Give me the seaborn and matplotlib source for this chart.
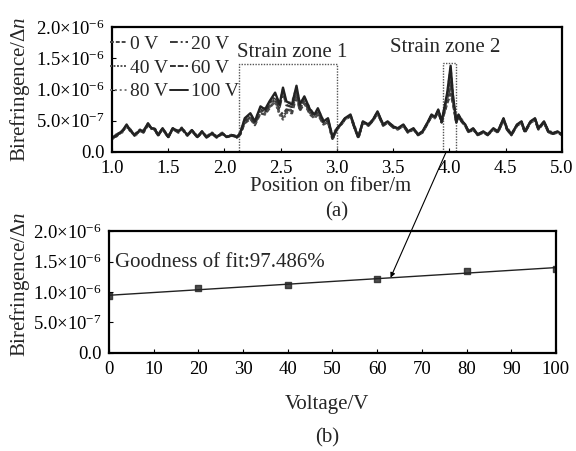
import numpy as np
import pandas as pd
import seaborn as sns
import matplotlib
matplotlib.use("Agg")
import matplotlib.pyplot as plt
from matplotlib.patches import Rectangle, ConnectionPatch
from matplotlib.lines import Line2D

# position along the fiber (m)
position = [1.00, 1.04, 1.09, 1.13, 1.16, 1.20, 1.25, 1.28, 1.32, 1.35, 1.38,
            1.41, 1.45, 1.50, 1.54, 1.59, 1.62, 1.67, 1.71, 1.76, 1.80, 1.84,
            1.89, 1.93, 1.98, 2.02, 2.07, 2.11, 2.14, 2.18, 2.23, 2.27, 2.32,
            2.36, 2.40, 2.45, 2.49, 2.52, 2.55, 2.60, 2.64, 2.67, 2.71, 2.76,
            2.80, 2.83, 2.88, 2.92, 2.96, 3.00, 3.03, 3.07, 3.12, 3.16, 3.19,
            3.23, 3.28, 3.32, 3.36, 3.41, 3.45, 3.50, 3.54, 3.59, 3.63, 3.68,
            3.72, 3.76, 3.81, 3.84, 3.87, 3.90, 3.93, 3.96, 3.98, 4.01, 4.03,
            4.06, 4.08, 4.11, 4.14, 4.17, 4.21, 4.25, 4.30, 4.34, 4.39, 4.43,
            4.48, 4.51, 4.55, 4.60, 4.64, 4.67, 4.72, 4.76, 4.79, 4.84, 4.88,
            4.92, 4.96, 5.00]

# birefringence in units of 1e-6, one list per applied voltage
bi_0v = [0.21, 0.27, 0.32, 0.42, 0.35, 0.27, 0.34, 0.33, 0.45, 0.38, 0.37,
         0.27, 0.38, 0.24, 0.38, 0.33, 0.38, 0.27, 0.35, 0.24, 0.33, 0.24,
         0.30, 0.24, 0.30, 0.24, 0.27, 0.24, 0.29, 0.46, 0.53, 0.43, 0.62,
         0.60, 0.70, 0.82, 0.62, 0.56, 0.64, 0.62, 0.90, 0.66, 0.78, 0.60,
         0.54, 0.60, 0.44, 0.48, 0.22, 0.37, 0.43, 0.53, 0.58, 0.37, 0.24,
         0.48, 0.43, 0.51, 0.64, 0.43, 0.48, 0.40, 0.37, 0.43, 0.32, 0.37,
         0.28, 0.32, 0.48, 0.58, 0.55, 0.66, 0.48, 0.66, 0.78, 0.93, 0.78,
         0.48, 0.58, 0.49, 0.43, 0.32, 0.37, 0.28, 0.32, 0.28, 0.37, 0.32,
         0.53, 0.37, 0.28, 0.43, 0.48, 0.32, 0.48, 0.53, 0.37, 0.48, 0.32,
         0.30, 0.32, 0.28]
bi_20v = [0.22, 0.28, 0.33, 0.41, 0.36, 0.27, 0.34, 0.34, 0.44, 0.38, 0.36,
          0.27, 0.37, 0.24, 0.37, 0.33, 0.37, 0.27, 0.34, 0.24, 0.32, 0.24,
          0.30, 0.24, 0.30, 0.24, 0.27, 0.24, 0.28, 0.48, 0.56, 0.45, 0.66,
          0.63, 0.74, 0.85, 0.66, 0.60, 0.68, 0.66, 0.95, 0.68, 0.82, 0.62,
          0.56, 0.63, 0.46, 0.50, 0.21, 0.37, 0.43, 0.53, 0.58, 0.37, 0.23,
          0.48, 0.43, 0.51, 0.63, 0.43, 0.48, 0.40, 0.37, 0.43, 0.32, 0.37,
          0.28, 0.32, 0.48, 0.58, 0.55, 0.66, 0.48, 0.68, 0.82, 1.06, 0.82,
          0.48, 0.58, 0.49, 0.43, 0.32, 0.37, 0.28, 0.32, 0.28, 0.37, 0.32,
          0.52, 0.37, 0.28, 0.43, 0.48, 0.32, 0.48, 0.52, 0.37, 0.48, 0.32,
          0.30, 0.32, 0.28]
bi_40v = [0.21, 0.26, 0.32, 0.43, 0.34, 0.28, 0.36, 0.32, 0.45, 0.37, 0.38,
          0.28, 0.37, 0.25, 0.37, 0.32, 0.39, 0.28, 0.34, 0.25, 0.32, 0.25,
          0.31, 0.25, 0.29, 0.25, 0.28, 0.23, 0.31, 0.50, 0.55, 0.44, 0.65,
          0.62, 0.72, 0.80, 0.60, 0.52, 0.62, 0.70, 0.92, 0.70, 0.80, 0.62,
          0.55, 0.62, 0.45, 0.50, 0.20, 0.37, 0.43, 0.53, 0.58, 0.37, 0.22,
          0.48, 0.43, 0.51, 0.63, 0.43, 0.48, 0.40, 0.37, 0.43, 0.32, 0.37,
          0.27, 0.32, 0.48, 0.59, 0.55, 0.66, 0.48, 0.70, 0.85, 1.12, 0.84,
          0.48, 0.58, 0.49, 0.43, 0.32, 0.37, 0.27, 0.32, 0.27, 0.37, 0.32,
          0.53, 0.37, 0.27, 0.43, 0.48, 0.32, 0.48, 0.53, 0.37, 0.48, 0.32,
          0.29, 0.32, 0.27]
bi_60v = [0.23, 0.25, 0.34, 0.40, 0.37, 0.26, 0.34, 0.31, 0.43, 0.39, 0.36,
          0.26, 0.37, 0.23, 0.37, 0.31, 0.37, 0.26, 0.34, 0.23, 0.32, 0.23,
          0.29, 0.23, 0.29, 0.25, 0.26, 0.23, 0.29, 0.50, 0.58, 0.46, 0.68,
          0.64, 0.78, 0.88, 0.72, 0.96, 0.75, 0.72, 1.00, 0.72, 0.85, 0.65,
          0.57, 0.66, 0.47, 0.52, 0.22, 0.36, 0.42, 0.52, 0.57, 0.36, 0.23,
          0.47, 0.42, 0.50, 0.62, 0.42, 0.47, 0.39, 0.36, 0.42, 0.31, 0.36,
          0.27, 0.31, 0.47, 0.57, 0.54, 0.65, 0.47, 0.72, 0.88, 1.21, 0.86,
          0.47, 0.57, 0.48, 0.42, 0.31, 0.36, 0.27, 0.31, 0.27, 0.36, 0.31,
          0.51, 0.36, 0.27, 0.42, 0.47, 0.31, 0.47, 0.51, 0.36, 0.47, 0.31,
          0.29, 0.31, 0.27]
bi_80v = [0.20, 0.28, 0.31, 0.42, 0.36, 0.25, 0.33, 0.35, 0.44, 0.40, 0.35,
          0.28, 0.36, 0.25, 0.36, 0.34, 0.36, 0.28, 0.33, 0.25, 0.31, 0.25,
          0.28, 0.25, 0.31, 0.23, 0.28, 0.25, 0.32, 0.52, 0.60, 0.50, 0.70,
          0.70, 0.78, 0.92, 0.78, 1.00, 0.78, 0.80, 1.02, 0.78, 0.86, 0.70,
          0.58, 0.68, 0.50, 0.52, 0.26, 0.40, 0.42, 0.52, 0.58, 0.40, 0.25,
          0.47, 0.45, 0.50, 0.62, 0.45, 0.47, 0.42, 0.37, 0.42, 0.34, 0.36,
          0.29, 0.32, 0.47, 0.58, 0.55, 0.66, 0.50, 0.72, 0.92, 1.34, 0.90,
          0.50, 0.58, 0.52, 0.42, 0.34, 0.36, 0.29, 0.32, 0.29, 0.36, 0.34,
          0.52, 0.40, 0.29, 0.42, 0.47, 0.34, 0.47, 0.52, 0.40, 0.47, 0.34,
          0.31, 0.32, 0.29]
bi_100v = [0.22, 0.27, 0.33, 0.44, 0.35, 0.27, 0.35, 0.33, 0.46, 0.38, 0.37,
           0.27, 0.38, 0.24, 0.38, 0.33, 0.38, 0.27, 0.35, 0.24, 0.33, 0.24,
           0.30, 0.24, 0.30, 0.24, 0.27, 0.24, 0.30, 0.54, 0.62, 0.49, 0.73,
           0.68, 0.81, 0.95, 0.76, 1.03, 0.81, 0.76, 1.06, 0.76, 0.89, 0.68,
           0.60, 0.70, 0.49, 0.54, 0.24, 0.38, 0.44, 0.54, 0.60, 0.38, 0.24,
           0.49, 0.44, 0.52, 0.65, 0.44, 0.49, 0.41, 0.38, 0.44, 0.33, 0.38,
           0.28, 0.33, 0.49, 0.60, 0.56, 0.68, 0.49, 0.76, 0.95, 1.38, 0.92,
           0.49, 0.60, 0.50, 0.44, 0.33, 0.38, 0.28, 0.33, 0.28, 0.38, 0.33,
           0.54, 0.38, 0.28, 0.44, 0.49, 0.33, 0.49, 0.54, 0.38, 0.49, 0.33,
           0.30, 0.33, 0.28]

voltage_names = ["0 V", "20 V", "40 V", "60 V", "80 V", "100 V"]

# panel (b): peak birefringence at strain zone 2
voltage = [0, 20, 40, 60, 80, 100]
peak_bi = [0.93, 1.06, 1.12, 1.21, 1.34, 1.38]

ytick_vals = [0.0, 0.5, 1.0, 1.5, 2.0]
ytick_text = ["0.0", "5.0×10$^{-7}$", "1.0×10$^{-6}$", "1.5×10$^{-6}$", "2.0×10$^{-6}$"]

# ---------------------------------------------------------------
sns.set_style("ticks")
plt.rcParams["font.family"] = ["Liberation Serif", "DejaVu Serif"]
plt.rcParams["mathtext.fontset"] = "custom"
plt.rcParams["mathtext.rm"] = "Liberation Serif"
plt.rcParams["mathtext.it"] = "Liberation Serif:italic"
plt.rcParams["xtick.direction"] = "in"
plt.rcParams["ytick.direction"] = "in"

fs = 15      # labels and annotations
tfs = 13.5   # tick labels

frames = []
for name, vals in zip(voltage_names, [bi_0v, bi_20v, bi_40v, bi_60v, bi_80v, bi_100v]):
    frames.append(pd.DataFrame({"pos": position, "bi": np.array(vals) * 1e-6, "V": name}))
df = pd.concat(frames, ignore_index=True)

dashes = {"0 V": (2, 1), "20 V": (4, 1.5, 1, 1.5), "40 V": (1, 0.8),
          "60 V": (3, 1), "80 V": (1, 1.5), "100 V": ""}
palette = {"0 V": "#444444", "20 V": "#3a3a3a", "40 V": "#555555",
           "60 V": "#333333", "80 V": "#777777", "100 V": "#222222"}

fig = plt.figure(figsize=(5.76, 4.51), dpi=100)
ax1 = fig.add_axes([0.1944, 0.6630, 0.7813, 0.2771])
ax2 = fig.add_axes([0.1892, 0.2173, 0.7760, 0.2705])

sns.lineplot(data=df, x="pos", y="bi", hue="V", style="V", palette=palette,
             dashes=dashes, linewidth=1.7, ax=ax1, legend=False, sort=False)

ax1.set_xlim(1.0, 5.0)
ax1.set_ylim(0, 2e-6)
ax1.set_xticks(np.arange(1.0, 5.01, 0.5))
ax1.set_xticklabels([f"{v:.1f}" for v in np.arange(1.0, 5.01, 0.5)], fontsize=tfs)
ax1.set_yticks([v * 1e-6 for v in ytick_vals])
ax1.set_yticklabels(ytick_text, fontsize=tfs)
ax1.set_xlabel("")
ax1.set_ylabel("Birefringence/Δ$n$", fontsize=fs)
ax1.yaxis.set_label_coords(-0.178, 0.5)

# strain zone boxes
ax1.add_patch(Rectangle((2.13, 0), 0.87, 1.41e-6, fill=False, ls=(0, (1, 1)),
                        lw=1.0, ec="#555555"))
ax1.add_patch(Rectangle((3.94, 0), 0.12, 1.43e-6, fill=False, ls=(0, (1, 1)),
                        lw=1.0, ec="#555555"))
ax1.text(2.60, 1.59e-6, "Strain zone 1", fontsize=fs, ha="center", va="center")
ax1.text(3.96, 1.67e-6, "Strain zone 2", fontsize=fs, ha="center", va="center")

order = [0, 2, 4, 1, 3, 5]
handles = [Line2D([], [], color=palette[voltage_names[i]], lw=1.4,
                  dashes=dashes[voltage_names[i]] if dashes[voltage_names[i]] else (None, None))
           for i in order]
ax1.legend(handles, [voltage_names[i] for i in order], ncol=2, loc="upper left",
           bbox_to_anchor=(-0.005, 0.935), frameon=False, fontsize=14,
           handlelength=0.9, handletextpad=0.15, columnspacing=0.1,
           labelspacing=0.32, borderaxespad=0.0, borderpad=0.0)

# panel (b)
sns.regplot(x=voltage, y=[v * 1e-6 for v in peak_bi], ax=ax2, ci=None,
            marker="s", scatter_kws={"s": 22, "color": "#222222"},
            line_kws={"color": "#222222", "lw": 1.0})
ax2.set_xlim(0, 100)
ax2.set_ylim(0, 2e-6)
ax2.set_xticks(range(0, 101, 10))
ax2.set_xticklabels([str(v) for v in range(0, 101, 10)], fontsize=tfs)
ax2.set_yticks([v * 1e-6 for v in ytick_vals])
ax2.set_yticklabels(ytick_text, fontsize=tfs)
ax2.set_ylabel("Birefringence/Δ$n$", fontsize=fs)
ax2.yaxis.set_label_coords(-0.172, 0.56)
ax2.set_xlabel("")
ax2.text(0.013, 0.74, "Goodness of fit:97.486%", transform=ax2.transAxes,
         fontsize=fs, ha="left", va="center")

for ax in (ax1, ax2):
    for sp in ax.spines.values():
        sp.set_linewidth(1.6)
        sp.set_color("black")
    ax.tick_params(length=3, width=0.8, colors="black")
    ax.tick_params(axis="x", pad=6)
    ax.tick_params(axis="y", pad=5)
    ax.grid(False)

# figure-level labels
fig.text(331 / 576, 1 - 187 / 451, "Position on fiber/m", fontsize=fs, ha="center", va="center")
fig.text(337 / 576, 1 - 212 / 451, "(a)", fontsize=fs, ha="center", va="center")
fig.text(327 / 576, 1 - 405 / 451, "Voltage/V", fontsize=fs, ha="center", va="center")
fig.text(327 / 576, 1 - 438 / 451, "(b)", fontsize=fs, ha="center", va="center")

# arrow from strain zone 2 to the fitted line
con = ConnectionPatch(xyA=(3.97, 0.0), coordsA=ax1.transData,
                      xyB=(63, 1.235e-6), coordsB=ax2.transData,
                      arrowstyle="-|>", mutation_scale=7, lw=0.8, color="black")
fig.add_artist(con)

fig.savefig("out.png", dpi=100, facecolor="white")
